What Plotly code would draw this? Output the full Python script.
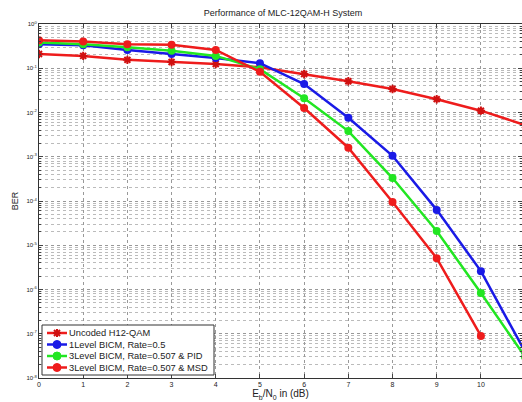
import plotly.graph_objects as go

ebn0 = [0, 1, 2, 3, 4, 5, 6, 7, 8, 9, 10, 11]
uncoded = [0.21, 0.19, 0.155, 0.138, 0.125, 0.105, 0.074, 0.051, 0.034, 0.020, 0.011, 0.0052]
bicm1 = [0.35, 0.33, 0.26, 0.21, 0.17, 0.13, 0.044, 0.0076, 1.05e-3, 6.3e-5, 2.6e-6, 3.9e-8]
pid3 = [0.38, 0.35, 0.30, 0.25, 0.19, 0.095, 0.021, 3.8e-3, 3.3e-4, 2.1e-5, 8.3e-7, 3.0e-8]
msd3 = [0.43, 0.40, 0.35, 0.34, 0.26, 0.083, 0.0126, 1.6e-3, 9.5e-5, 5.1e-6, 8.9e-8]

names = ["Uncoded H12-QAM", "1Level BICM, Rate=0.5",
         "3Level BICM, Rate=0.507 & PID", "3Level BICM, Rate=0.507 & MSD"]
colors = ["#ee1c1c", "#1a1ae6", "#22e622", "#ee1c1c"]
symbols = ["asterisk", "circle", "circle", "circle"]

ytickvals = [10 ** (-k) for k in range(0, 9)]
yticktext = ["10<sup>%d</sup>" % (-k) if k else "10<sup>0</sup>" for k in range(0, 9)]
xticks = list(range(0, 11))

series = [(ebn0, uncoded), (ebn0, bicm1), (ebn0, pid3), (ebn0[:len(msd3)], msd3)]

fig = go.Figure()
for (xs, ys), nm, c, s in zip(series, names, colors, symbols):
    mk = dict(symbol=s, size=8, color=c)
    if s == "asterisk":
        mk = dict(symbol=s, size=7, line=dict(color="#d01010", width=2))
    fig.add_trace(go.Scatter(x=xs, y=ys, name=nm, mode="lines+markers",
                             line=dict(color=c, width=2.5), marker=mk, showlegend=False))

# manual compact legend (MATLAB style)
W, H = 483.0, 354.0
def px(x):
    return (x - 39) / W
def py(y):
    return (378 - y) / H

shapes = [dict(type="rect", xref="paper", yref="paper", x0=px(42), x1=px(214),
               y0=py(375), y1=py(325), line=dict(color="#333", width=1), fillcolor="white",
               layer="above")]
annotations = []
rows = [333, 344.5, 356, 367.5]
for nm, c, s, ry in zip(names, colors, symbols, rows):
    shapes.append(dict(type="line", xref="paper", yref="paper", x0=px(47), x1=px(67),
                       y0=py(ry), y1=py(ry), line=dict(color=c, width=2.5), layer="above"))
    if s == "circle":
        shapes.append(dict(type="circle", xref="paper", yref="paper", xsizemode="pixel",
                           ysizemode="pixel", xanchor=px(57), yanchor=py(ry),
                           x0=-4, x1=4, y0=-4, y1=4, fillcolor=c, line=dict(color=c, width=1),
                           layer="above"))
    else:
        shapes.append(dict(type="path", xref="paper", yref="paper", xsizemode="pixel",
                           ysizemode="pixel", xanchor=px(57), yanchor=py(ry),
                           path="M-3,-3L3,3M-3,3L3,-3M0,-4L0,4M-4,0L4,0",
                           line=dict(color="#d01010", width=2), layer="above"))
    annotations.append(dict(xref="paper", yref="paper", x=px(67), y=py(ry), text=nm,
                            showarrow=False, xanchor="left", yanchor="middle",
                            font=dict(size=9.3, color="#222")))

fig.update_layout(
    width=522, height=402,
    margin=dict(l=39, r=0, t=24, b=24),
    paper_bgcolor="white", plot_bgcolor="white",
    font=dict(family="Liberation Sans, Arial, sans-serif", size=8, color="#222"),
    title=dict(text="Performance of MLC-12QAM-H System", x=0.542, xanchor="center",
               y=0.975, yanchor="top", font=dict(size=9, color="#222")),
    showlegend=False,
    shapes=shapes, annotations=annotations,
    xaxis=dict(range=[0, 10.93], tickvals=xticks, ticks="inside", ticklen=4,
               showline=True, linecolor="#333", mirror="ticks", linewidth=1,
               showgrid=True, gridcolor="#999", griddash="dot", gridwidth=1,
               zeroline=False, tickfont=dict(size=7),
               title=dict(text="E<sub>b</sub>/N<sub>0</sub> in (dB)", standoff=2,
                          font=dict(size=10))),
    yaxis=dict(type="log", range=[-8, 0], tickvals=ytickvals, ticktext=yticktext,
               ticks="inside", ticklen=4, showline=True, linecolor="#333",
               mirror="ticks", linewidth=1,
               showgrid=True, gridcolor="#999", griddash="dot", gridwidth=1,
               minor=dict(showgrid=True, gridcolor="#bbb", griddash="dot", ticks="inside",
                          ticklen=2, dtick="D1"),
               zeroline=False, tickfont=dict(size=6),
               title=dict(text="BER", standoff=6, font=dict(size=9))),
)

fig.write_html("out.html")
